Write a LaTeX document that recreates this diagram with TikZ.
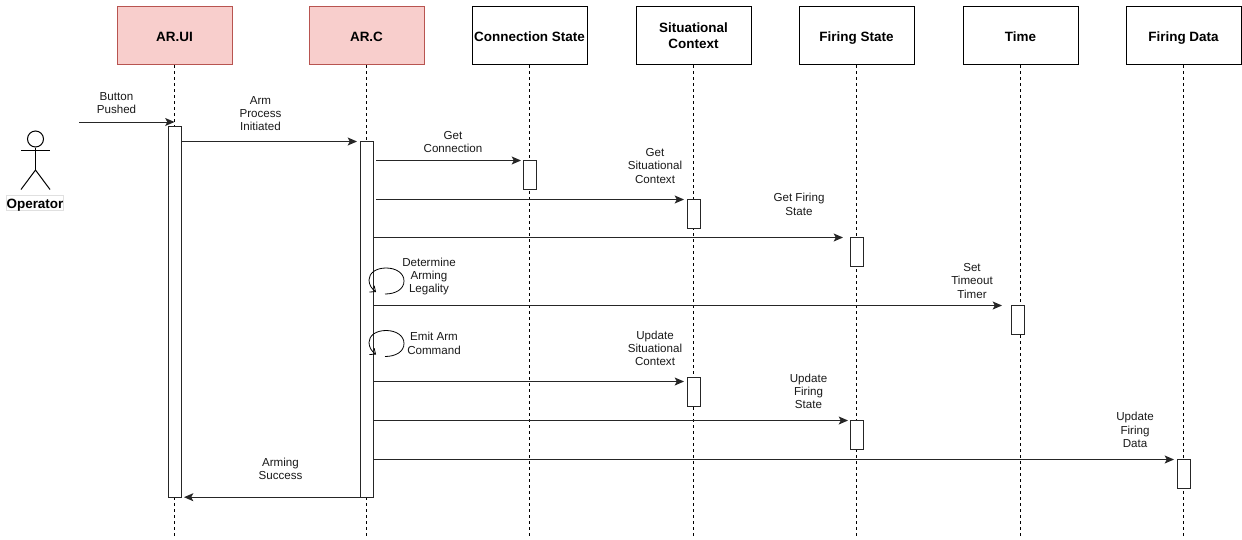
\documentclass[tikz,border=0pt]{standalone}
\usepackage{fontspec}
\setmainfont{Liberation Sans}
\usetikzlibrary{arrows.meta,calc}
\definecolor{pinkfill}{HTML}{F8CECC}
\definecolor{pinkline}{HTML}{B85450}
\tikzset{
  x=0.75pt,y=-0.75pt,
  lbl/.style={font=\fontsize{8.7}{10}\selectfont,align=center,inner sep=0pt,text=black!90},
  hdr/.style={draw=black,line width=0.75pt,fill=white,minimum width=86.25pt,minimum height=43.5pt,inner sep=0pt,align=center,text height=8.5pt,text depth=0pt,font=\fontsize{10.1}{12}\selectfont\bfseries},
  hdrtwo/.style={text height=20pt,text depth=0pt},
  hdrpink/.style={hdr,draw=pinkline,fill=pinkfill},
  act/.style={draw=black!85,line width=0.75pt,fill=white,minimum width=9.75pt,inner sep=0pt,outer sep=0pt,anchor=north},
  life/.style={draw=black,line width=0.75pt,dash pattern=on 2.25pt off 2.25pt},
  msg/.style={draw=black!85,line width=0.75pt,-{Stealth[length=7pt,width=6pt,inset=1.6pt]}},
  selfloop/.style={draw=black,line width=0.6pt,-{Straight Barb[length=3.5pt,width=6pt]}},
  actorline/.style={draw=black,line width=0.75pt},
}
\begin{document}
\begin{tikzpicture}
\useasboundingbox (0,0) rectangle (1242,539);
% Headers
\node[hdrpink] (ui) at (174.5,35.5) {AR.UI};
\node[hdrpink] (c) at (366.5,35.5) {AR.C};
\node[hdr] (conn) at (529.5,35.5) {Connection State};
\node[hdr,hdrtwo] (sit) at (693.5,35.5) {Situational\\Context};
\node[hdr] (fire) at (856.5,35.5) {Firing State};
\node[hdr] (time) at (1020.5,35.5) {Time};
\node[hdr] (data) at (1183.5,35.5) {Firing Data};
% Lifeline ends
\coordinate (uiE) at (174.5,536);
\coordinate (cE) at (366.5,536);
\coordinate (connE) at (529.5,536);
\coordinate (sitE) at (693.5,536);
\coordinate (fireE) at (856.5,536);
\coordinate (timeE) at (1020.5,536);
\coordinate (dataE) at (1183.5,536);
\foreach \n in {ui,c,conn,sit,fire,time,data}{\draw[life] (\n.south) -- (\n E);}
% Activations
\node[act,minimum height=278.025pt] (aui) at (174.5,126.5) {};
\node[act,minimum height=266.775pt] (ac) at (366.5,141.5) {};
\node[act,minimum height=21.75pt] (aconn) at (529.5,160.5) {};
\node[act,minimum height=21.75pt] (asit) at (693.5,199.5) {};
\node[act,minimum height=21.75pt] (afire) at (856.5,237.5) {};
\node[act,minimum height=21.75pt] (atime) at (1017.5,305.5) {};
\node[act,minimum height=21.75pt] (asit2) at (693.5,377.5) {};
\node[act,minimum height=21.75pt] (afire2) at (856.5,420.5) {};
\node[act,minimum height=21.75pt] (adata) at (1183.5,459.5) {};
% Actor
\node[draw=black,line width=0.75pt,circle,minimum size=12pt,inner sep=0pt] (head) at (35.5,139) {};
\coordinate (hip) at (35.5,170);
\coordinate (shL) at (21,150.5);
\coordinate (shR) at (50,150.5);
\coordinate (legL) at (21,189.5);
\coordinate (legR) at (50,189.5);
\draw[actorline] (head.south) -- (hip);
\draw[actorline] (shL) -- (shR);
\draw[actorline] (legL) -- (hip) -- (legR);
\node[draw=black!12,line width=0.4pt,fill=white,minimum width=42pt,minimum height=11.5pt,inner sep=0pt,text height=7.5pt,text depth=0pt,font=\fontsize{10.1}{12}\selectfont\bfseries] (op) at (35,203) {Operator};
% Messages
\coordinate (btn) at (79,122);
\coordinate (btnE) at (174.5,122);
\draw[msg] (btn) -- (btnE);
\draw[msg,shorten >=2.25pt] (aui.east |- ac.north) -- (ac.north west);
\draw[msg,shorten <=2.25pt,shorten >=1.5pt] (ac.east |- aconn.north) -- (aconn.north west);
\draw[msg,shorten <=2.25pt,shorten >=2.25pt] (ac.east |- asit.north) -- (asit.north west);
\draw[msg,shorten >=5.25pt] (ac.east |- afire.north) -- (afire.north west);
\draw[msg,shorten >=6.75pt] (ac.east |- atime.north) -- (atime.north west);
\coordinate (sit2t) at ($(asit2.north west)+(0,4)$);
\draw[msg,shorten >=2.25pt] (ac.east |- sit2t) -- (sit2t);
\draw[msg,shorten >=1.5pt] (ac.east |- afire2.north) -- (afire2.north west);
\draw[msg,shorten >=2.25pt] (ac.east |- adata.north) -- (adata.north west);
\draw[msg,shorten >=2.25pt] (ac.south west) -- (aui.east |- ac.south);
% Self loops
\draw[selfloop] (385,294) .. controls (396,294) and (404,289) .. (404,281) .. controls (404,273) and (396,268) .. (386,268) .. controls (376,268) and (369,273) .. (369,280) .. controls (369,285) and (372,289) .. (376,292);
\draw[selfloop] (385,356.5) .. controls (396,356.5) and (404,351.5) .. (404,343.5) .. controls (404,335.5) and (396,330.5) .. (386,330.5) .. controls (376,330.5) and (369,335.5) .. (369,342.5) .. controls (369,347.5) and (372,351.5) .. (376,354.5);
% Labels
\node[lbl] (l1) at (116.5,103) {Button\\Pushed};
\node[lbl] (l2) at (260.5,113.5) {Arm\\Process\\Initiated};
\node[lbl] (l3) at (453,142) {Get\\Connection};
\node[lbl] (l4) at (655,166) {Get\\Situational\\Context};
\node[lbl] (l5) at (799,204.5) {Get Firing\\State};
\node[lbl] (l6) at (429,276.5) {Determine\\Arming\\Legality};
\node[lbl] (l7) at (972,281) {Set\\Timeout\\Timer};
\node[lbl] (l8) at (434,343.5) {Emit Arm\\Command};
\node[lbl] (l9) at (655,348.5) {Update\\Situational\\Context};
\node[lbl] (l10) at (808.5,391.5) {Update\\Firing\\State};
\node[lbl] (l11) at (1135,430) {Update\\Firing\\Data};
\node[lbl] (l12) at (280.5,469) {Arming\\Success};
\end{tikzpicture}
\end{document}
